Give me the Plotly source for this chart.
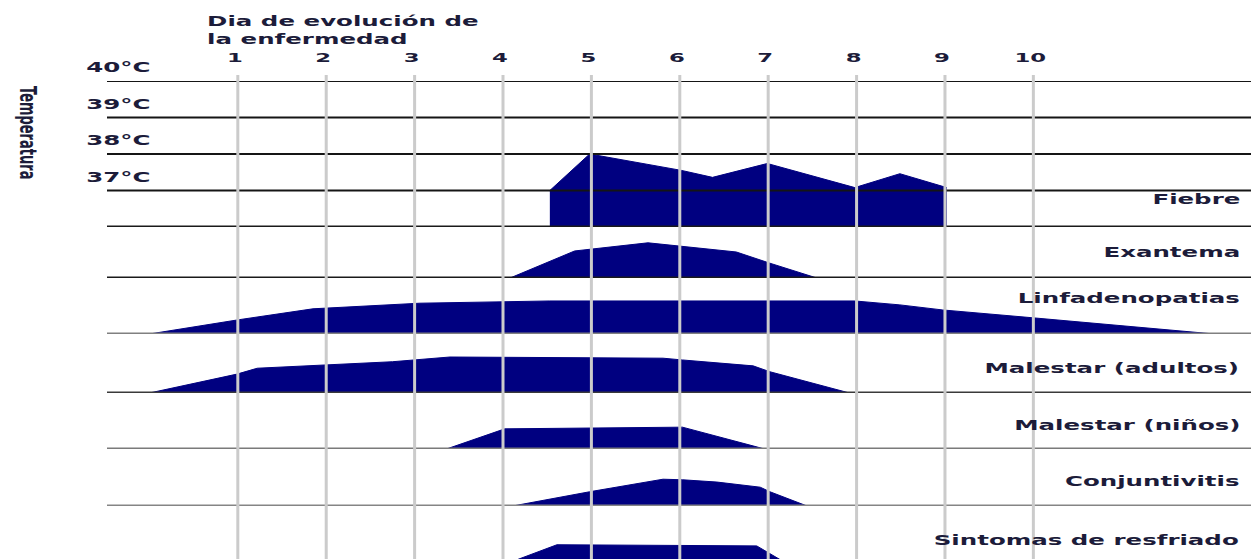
import plotly.graph_objects as go
from plotly.subplots import make_subplots

# ---- data ----
day_ticks = [1, 2, 3, 4, 5, 6, 7, 8, 9, 10]
day_labels = ["1", "2", "3", "4", "5", "6", "7", "8", "9", "10"]

temp_levels = [40, 39, 38, 37]
temp_labels = ["40°C", "39°C", "38°C", "37°C"]

fever_day = [4.53, 4.98, 6.02, 6.37, 6.99, 7.98, 8.49, 9.02]
fever_temp = [37.0, 38.0, 37.55, 37.36, 37.74, 37.08, 37.46, 37.08]

exantema_day = [4.08, 4.81, 5.64, 6.00, 6.64, 7.02, 7.55]
exantema_val = [0, 0.53, 0.69, 0.63, 0.51, 0.29, 0]

linf_day = [0.0, 0.99, 1.85, 2.72, 3.06, 4.53, 7.98, 8.49, 8.97, 9.99, 11.88, 12.05]
linf_val = [0, 0.25, 0.45, 0.52, 0.55, 0.59, 0.59, 0.52, 0.43, 0.29, 0.02, 0]

mal_ad_day = [0.0, 0.99, 1.22, 1.96, 2.75, 3.40, 5.81, 6.03, 6.83, 7.02, 7.92]
mal_ad_val = [0, 0.32, 0.42, 0.47, 0.53, 0.61, 0.59, 0.56, 0.46, 0.36, 0]

ninos_day = [3.36, 4.02, 6.03, 6.96]
ninos_val = [0, 0.36, 0.39, 0]

conj_day = [4.11, 4.98, 5.81, 6.03, 6.42, 6.91, 7.02, 7.44]
conj_val = [0, 0.25, 0.47, 0.46, 0.42, 0.33, 0.25, 0]

resf_day = [4.06, 4.61, 6.87, 7.20]
resf_val = [0, 0.32, 0.30, 0]

band_names = ["Fiebre", "Exantema", "Linfadenopatias", "Malestar (adultos)",
              "Malestar (niños)", "Conjuntivitis", "Sintomas de resfriado"]

# ---- figure geometry (page body has an 8px margin) ----
OFF = 8
SCR_W, SCR_H = 1259, 559
W, H = SCR_W - OFF, SCR_H - OFF
ML, MR, MT, MB = 107 - OFF, 2, 81 - OFF, 0
row_px = [146, 51, 56, 59, 56, 57, 53]
NAVY = "#000080"
TXT = "#1c1c3a"
FONT = "DejaVu Sans"

fig = make_subplots(rows=7, cols=1, shared_xaxes=True, vertical_spacing=0,
                    row_heights=row_px)

series = [(fever_day, fever_temp), (exantema_day, exantema_val), (linf_day, linf_val),
          (mal_ad_day, mal_ad_val), (ninos_day, ninos_val), (conj_day, conj_val),
          (resf_day, resf_val)]
for i, (xs, ys) in enumerate(series):
    fig.add_trace(go.Scatter(x=xs, y=ys, mode="lines", fill="tozeroy",
                             fillcolor=NAVY, line=dict(color=NAVY, width=1),
                             name=band_names[i], showlegend=False,
                             hoverinfo="skip"), row=i + 1, col=1)

xr = [-0.48, 12.53]
fig.update_xaxes(range=xr, showgrid=False, zeroline=False, showline=False,
                 showticklabels=False, ticks="")
fig.update_yaxes(showgrid=False, zeroline=False, showline=False,
                 showticklabels=False, ticks="")
fig.update_yaxes(range=[36, 40], row=1, col=1)
for r in range(2, 7):
    fig.update_yaxes(range=[0, 1], row=r, col=1)
fig.update_yaxes(range=[0.07, 1.0], row=7, col=1)

fig.update_layout(
    xaxis=dict(side="top", showticklabels=True, tickvals=day_ticks,
               ticktext=day_labels, ticklabelshift=-3, ticklabelstandoff=15,
               tickfont=dict(family=FONT, size=13, color=TXT, weight="bold")),
)

plot_h = H - MT - MB
plot_w = W - ML - MR

def px_x(px):  # screen px -> paper x
    return (px - OFF - ML) / plot_w

def px_y(py):  # screen px -> paper y
    return (H - MB - (py - OFF)) / plot_h

shapes = []
for t in temp_levels:
    shapes.append(dict(type="line", xref="paper", yref="y", x0=0, x1=1,
                       y0=t, y1=t, line=dict(color="#151515", width=2), layer="above"))
base_styles = [("#1a1a1a", 3), ("#1a1a1a", 3), ("#808080", 3), ("#3a3a3a", 3),
               ("#7a7a7a", 3), ("#858585", 3)]
base_vals = [36, 0, 0, 0, 0, 0]
for i in range(6):
    yr = "y" if i == 0 else "y%d" % (i + 1)
    c, w = base_styles[i]
    shapes.append(dict(type="line", xref="paper", yref=yr, x0=0, x1=px_x(1253),
                       y0=base_vals[i], y1=base_vals[i], line=dict(color=c, width=w),
                       layer="above"))
for d in day_ticks:
    shapes.append(dict(type="line", xref="x", yref="paper", x0=d, x1=d,
                       y0=0, y1=px_y(75), line=dict(color="#cbcbcb", width=3),
                       layer="above"))

ann = []
ann.append(dict(text="Dia de evolución de<br>la enfermedad", xref="paper", yref="paper",
                x=px_x(204), y=px_y(11), xanchor="left", yanchor="top", showarrow=False,
                align="left", font=dict(family=FONT, size=14, color=TXT, weight="bold")))
ann.append(dict(text="Temperatura", xref="paper", yref="paper", x=px_x(27), y=px_y(132),
                textangle=90, xanchor="center", yanchor="middle", showarrow=False,
                font=dict(family=FONT, size=13, color=TXT, weight="bold")))
for t, lab in zip(temp_levels, temp_labels):
    ann.append(dict(text=lab, xref="paper", yref="y", x=px_x(118), y=t, yshift=14,
                    xanchor="center", yanchor="middle", showarrow=False,
                    font=dict(family=FONT, size=14, color=TXT, weight="bold")))
band_label_y = [199, 252, 298, 368, 425, 481, 540]
for name, py in zip(band_names, band_label_y):
    ann.append(dict(text=name, xref="paper", yref="paper", x=px_x(1243), y=px_y(py),
                    xanchor="right", yanchor="middle", showarrow=False,
                    font=dict(family=FONT, size=14, color=TXT, weight="bold")))

fig.update_layout(width=W, height=H, margin=dict(l=ML, r=MR, t=MT, b=MB, autoexpand=False),
                  paper_bgcolor="white", plot_bgcolor="white",
                  shapes=shapes, annotations=ann, showlegend=False)

# the reference lettering is drawn horizontally stretched; widen the real text glyphs
post = """
var gd = document.getElementById('{plot_id}');
var SX = 1.75;
function stretch(el, sx, anchor) {
  var b = el.getBBox();
  if (!b || !b.width) return;
  var ox = anchor === 'left' ? b.x : (anchor === 'right' ? b.x + b.width : b.x + b.width / 2);
  var prev = el.getAttribute('transform') || '';
  el.setAttribute('transform', prev + ' translate(' + ox + ',0) scale(' + sx + ',1) translate(' + (-ox) + ',0)');
}
gd.querySelectorAll('g.annotation').forEach(function(g) {
  var i = +g.getAttribute('data-index');
  var a = gd._fullLayout.annotations[i];
  var anc = (a && a.xanchor && a.xanchor !== 'auto') ? a.xanchor : 'center';
  stretch(g, SX, anc);
});
gd.querySelectorAll('g.xtick text').forEach(function(t) { stretch(t, SX, 'center'); });
"""

fig.write_html("out.html", post_script=post)
